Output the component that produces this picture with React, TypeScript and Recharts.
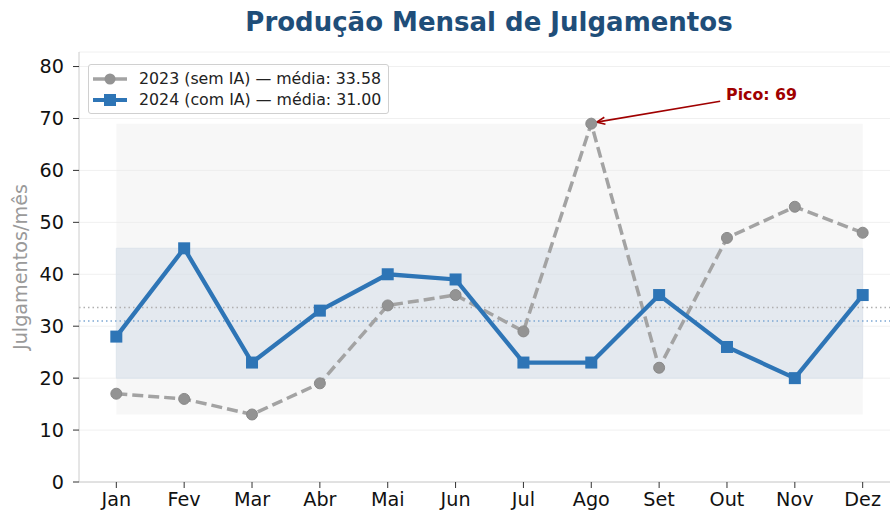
import React from "react";
import {
  LineChart,
  Line,
  XAxis,
  YAxis,
  CartesianGrid,
  ReferenceArea,
  ReferenceLine,
  ReferenceDot,
} from "recharts";

const months = ["Jan", "Fev", "Mar", "Abr", "Mai", "Jun", "Jul", "Ago", "Set", "Out", "Nov", "Dez"];
const values2023 = [17, 16, 13, 19, 34, 36, 29, 69, 22, 47, 53, 48];
const values2024 = [28, 45, 23, 33, 40, 39, 23, 23, 36, 26, 20, 36];
const yTicks = [0, 10, 20, 30, 40, 50, 60, 70, 80];

const mean = (arr: number[]) => arr.reduce((s, v) => s + v, 0) / arr.length;
const mean2023 = mean(values2023);
const mean2024 = mean(values2024);
const peak = Math.max(...values2023);
const peakIdx = values2023.indexOf(peak);

const data = months.map((m, i) => ({ x: i, month: m, y2023: values2023[i], y2024: values2024[i] }));

const GREY = "#a3a3a3";
const BLUE = "#2e75b6";
const RED = "#a00000";
const FONT = "DejaVu Sans, sans-serif";
const TICK_FONT = 19.2;

const SquareDot = (props: any) => {
  const { cx, cy } = props;
  if (cx == null || cy == null) return null;
  return <rect x={cx - 6} y={cy - 6} width={12} height={12} fill={BLUE} />;
};

const CircleDot = (props: any) => {
  const { cx, cy } = props;
  if (cx == null || cy == null) return null;
  return <circle cx={cx} cy={cy} r={5.5} fill="#939393" stroke="#8a8a8a" strokeWidth={1} />;
};

const Arrow = (props: any) => {
  const { x1, y1, x2, y2 } = props;
  if (x1 == null) return null;
  const ang = Math.atan2(y2 - y1, x2 - x1);
  const len = 9;
  const a1 = ang + Math.PI - 0.4;
  const a2 = ang + Math.PI + 0.4;
  return (
    <g>
      <line x1={x1} y1={y1} x2={x2} y2={y2} stroke={RED} strokeWidth={1.6} />
      <polyline
        points={`${x2 + len * Math.cos(a1)},${y2 + len * Math.sin(a1)} ${x2},${y2} ${x2 + len * Math.cos(a2)},${y2 + len * Math.sin(a2)}`}
        fill="none"
        stroke={RED}
        strokeWidth={1.6}
      />
    </g>
  );
};

const LegendBox = () => (
  <div
    style={{
      position: "absolute",
      left: 88,
      top: 64,
      width: 301,
      height: 50,
      border: "1px solid #d0d0d0",
      borderRadius: 3,
      background: "rgba(255,255,255,0.85)",
      padding: "3px 6px 3px 4px",
      fontFamily: FONT,
      fontSize: 15.8,
      color: "#222",
      boxSizing: "border-box",
      whiteSpace: "nowrap",
    }}
  >
    <div style={{ display: "flex", alignItems: "center", height: 21 }}>
      <svg width={34} height={14} style={{ marginRight: 12 }}>
        <line x1={0} y1={7} x2={34} y2={7} stroke={GREY} strokeWidth={3.5} />
        <circle cx={17} cy={7} r={5.5} fill="#939393" />
      </svg>
      <span>2023 (sem IA) — média: {mean2023.toFixed(2)}</span>
    </div>
    <div style={{ display: "flex", alignItems: "center", height: 21 }}>
      <svg width={34} height={14} style={{ marginRight: 12 }}>
        <line x1={0} y1={7} x2={34} y2={7} stroke={BLUE} strokeWidth={4} />
        <rect x={11} y={1} width={12} height={12} fill={BLUE} />
      </svg>
      <span>2024 (com IA) — média: {mean2024.toFixed(2)}</span>
    </div>
  </div>
);

const renderYLabel = (props: any) => {
  const vb = props.viewBox || {};
  const cy = (vb.y || 0) + (vb.height || 0) / 2;
  return (
    <text
      x={27}
      y={cy}
      transform={`rotate(-90, 27, ${cy})`}
      textAnchor="middle"
      fill="#9a9a9a"
      fontSize={TICK_FONT}
      fontFamily={FONT}
    >
      Julgamentos/mês
    </text>
  );
};

export default function App() {
  return (
    <div
      style={{
        position: "absolute",
        left: 0,
        top: 0,
        width: 890,
        height: 513,
        overflow: "hidden",
        background: "#fff",
        fontFamily: FONT,
      }}
    >
      <div
        style={{
          position: "absolute",
          left: 0,
          width: 978,
          top: 7,
          textAlign: "center",
          fontSize: 26,
          fontWeight: "bold",
          color: "#1f4e79",
          fontFamily: FONT,
        }}
      >
        Produção Mensal de Julgamentos
      </div>
      <LineChart
        width={900}
        height={513}
        data={data}
        margin={{ top: 52, right: 0, left: 0, bottom: 0 }}
      >
        <CartesianGrid horizontal vertical={false} stroke="#f0f0f0" />
        <ReferenceArea x1={0} x2={11} y1={Math.min(...values2023)} y2={peak} fill="#ececec" fillOpacity={0.4} stroke="none" />
        <ReferenceArea
          x1={0}
          x2={11}
          y1={Math.min(...values2024)}
          y2={Math.max(...values2024)}
          fill="#c7d5e4"
          fillOpacity={0.4}
          stroke="#dde4ec"
          strokeWidth={1}
        />
        <ReferenceLine y={mean2023} stroke="#b0b0b0" strokeDasharray="1.5 3" strokeWidth={1.5} />
        <ReferenceLine y={mean2024} stroke="#7ea8d4" strokeDasharray="1.5 3" strokeWidth={1.5} />
        <XAxis
          dataKey="x"
          type="number"
          domain={[-0.55, 11.55]}
          ticks={months.map((_, i) => i)}
          tickFormatter={(v) => months[v]}
          height={31}
          tickSize={6}
          tickMargin={4}
          interval={0}
          stroke="#cccccc"
          tickLine={{ stroke: "#333" }}
          tick={{ fill: "#111", fontSize: TICK_FONT, fontFamily: FONT }}
        />
        <YAxis
          domain={[0, 82.8]}
          ticks={yTicks}
          width={79}
          tickSize={6}
          tickMargin={9}
          stroke="#cccccc"
          tickLine={{ stroke: "#333" }}
          tick={{ fill: "#111", fontSize: TICK_FONT, fontFamily: FONT }}
          label={{ value: "Julgamentos/mês", content: renderYLabel }}
        />
        <Line
          dataKey="y2023"
          stroke={GREY}
          strokeWidth={3.5}
          strokeDasharray="11 5"
          dot={<CircleDot />}
          activeDot={false}
          isAnimationActive={false}
        />
        <Line
          dataKey="y2024"
          stroke={BLUE}
          strokeWidth={4.3}
          dot={<SquareDot />}
          activeDot={false}
          isAnimationActive={false}
        />
        <ReferenceLine
          segment={[
            { x: 8.9, y: 73.3 },
            { x: peakIdx + 0.08, y: peak + 0.3 },
          ]}
          shape={<Arrow />}
        />
        <ReferenceDot
          x={9.51}
          y={74.7}
          r={0}
          fill="none"
          stroke="none"
          label={{ value: `Pico: ${peak}`, position: "center", fill: RED, fontWeight: "bold", fontSize: 15.8, fontFamily: FONT }}
        />
      </LineChart>
      <LegendBox />
    </div>
  );
}
